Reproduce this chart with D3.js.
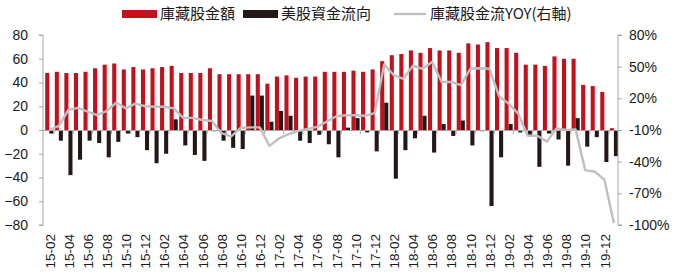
<!doctype html>
<html>
<head>
<meta charset="utf-8">
<script src="https://cdn.jsdelivr.net/npm/d3@7"></script>
<style>
  html, body { margin: 0; padding: 0; background: #fff; }
  svg { display: block; }
</style>
</head>
<body>
<div id="chart"></div>
<script>
// Monthly categories 15-02 .. 20-01
const months = [
  "15-02","15-03","15-04","15-05","15-06","15-07","15-08","15-09","15-10","15-11","15-12",
  "16-01","16-02","16-03","16-04","16-05","16-06","16-07","16-08","16-09","16-10","16-11","16-12",
  "17-01","17-02","17-03","17-04","17-05","17-06","17-07","17-08","17-09","17-10","17-11","17-12",
  "18-01","18-02","18-03","18-04","18-05","18-06","18-07","18-08","18-09","18-10","18-11","18-12",
  "19-01","19-02","19-03","19-04","19-05","19-06","19-07","19-08","19-09","19-10","19-11","19-12",
  "20-01"
];

// 庫藏股金額 (left axis)
const buybackAmount = [
  48, 49, 48, 48, 49, 52, 55, 56, 51, 53, 51,
  52, 53, 54, 48, 48, 48, 52, 47, 47, 47, 47, 47,
  39, 45, 46, 44, 45, 45, 49, 49, 49, 50, 49, 51,
  58, 63, 64, 67, 65, 69, 67, 67, 65, 73, 72, 74,
  69, 69, 65, 55, 55, 54, 62, 60, 60, 38, 37, 32,
  1.5
];

// 美股資金流向 (left axis)
const usEquityFlow = [
  -3, -9, -38, -25, -9, -11, -23, -10, -3, -6, -17,
  -28, -20, 9, -13, -21, -26, -1, -9, -15, -16, 29, 29,
  7, 16, 12, -9, -11, -4, -12, -23, 2, 10, -2, -18,
  23, -41, -17, -7, 12, -19, 5, -5, 8, -13, -1, -64,
  -23, 5, -2, -5, -31, -3, -8, -30, 10, -14, -6, -27,
  -22
];

// 庫藏股金流YOY (right axis, %)
const buybackYoY = [
  -10, -6, 9, 11, 7.5, 4, 8, 16, 10.5, 15, 12.5,
  12, 12, 10.5, 1.5, 1.5, -0.5, -1.5, -13, -16, -8, -7.5, -7.5,
  -25, -18, -14, -11, -9, -7, -2, 3, 4, 4, 3.5, 6,
  52, 42, 38.5, 51, 48, 54.5, 35.5, 35.5, 32.5, 48, 48.5, 48,
  22, 15, 5.5, -15.5, -15.5, -21, -8.5, -10, -9.5, -48, -49.5, -57,
  -98
];

const leftTicks = [80, 60, 40, 20, 0, -20, -40, -60, -80];
const rightTicks = [80, 50, 20, -10, -40, -70, -100];

const legendItems = [
  { label: "庫藏股金額", kind: "bar", color: "#C3101C" },
  { label: "美股資金流向", kind: "bar", color: "#231815" },
  { label: "庫藏股金流YOY(右軸)", kind: "line", color: "#BFBFBF" },
];

const W = 680, H = 276;
const plotLeft = 43, plotRight = 618;
const plotTop = 35, plotBottom = 225;
const axisColor = "#A6A6A6";
const textColor = "#1A1A1A";
const fontFamily = '"Liberation Sans", Arial, "Noto Sans CJK TC", sans-serif';

const data = months.map((m, i) => ({
  month: m,
  amount: buybackAmount[i],
  flow: usEquityFlow[i],
  yoy: buybackYoY[i],
}));

const svg = d3.select("#chart")
  .append("svg")
  .attr("width", W)
  .attr("height", H)
  .style("font-family", fontFamily);

const x = d3.scaleBand()
  .domain(months)
  .range([44.5, 44.5 + months.length * 9.57])
  .paddingInner(0.15)
  .paddingOuter(0.075);

const xSub = d3.scaleBand()
  .domain(["amount", "flow"])
  .range([0, x.bandwidth()])
  .padding(0);

const yL = d3.scaleLinear().domain([-80, 80]).range([plotBottom, plotTop]);
const yR = d3.scaleLinear().domain([-100, 80]).range([plotBottom, plotTop]);

const step = x.step();
const center = (m) => x(m) + x.bandwidth() / 2;

// Bars
svg.append("g")
  .selectAll("rect.amount")
  .data(data)
  .join("rect")
  .attr("class", "amount")
  .attr("x", (d) => x(d.month) + xSub("amount"))
  .attr("width", xSub.bandwidth())
  .attr("y", (d) => yL(Math.max(0, d.amount)))
  .attr("height", (d) => Math.abs(yL(d.amount) - yL(0)))
  .attr("fill", legendItems[0].color);

svg.append("g")
  .selectAll("rect.flow")
  .data(data)
  .join("rect")
  .attr("class", "flow")
  .attr("x", (d) => x(d.month) + xSub("flow"))
  .attr("width", xSub.bandwidth())
  .attr("y", (d) => yL(Math.max(0, d.flow)))
  .attr("height", (d) => Math.abs(yL(d.flow) - yL(0)))
  .attr("fill", legendItems[1].color);

// Zero line with small ticks every two categories
const zeroG = svg.append("g").attr("stroke", axisColor).attr("stroke-width", 1);
zeroG.append("line")
  .attr("x1", plotLeft).attr("x2", plotRight)
  .attr("y1", yL(0) + 0.5).attr("y2", yL(0) + 0.5);
zeroG.selectAll("line.tk")
  .data(months.filter((m, i) => i % 2 === 1))
  .join("line")
  .attr("class", "tk")
  .attr("x1", (m) => x(m) - (step - x.bandwidth()) / 2)
  .attr("x2", (m) => x(m) - (step - x.bandwidth()) / 2)
  .attr("y1", yL(0))
  .attr("y2", yL(0) + 4);

// YOY line
svg.append("path")
  .datum(data)
  .attr("fill", "none")
  .attr("stroke", legendItems[2].color)
  .attr("stroke-width", 2.4)
  .attr("stroke-linejoin", "round")
  .attr("d", d3.line().x((d) => center(d.month)).y((d) => yR(d.yoy)));

// Left axis
const leftG = svg.append("g")
  .attr("transform", `translate(${plotLeft}, 0)`)
  .call(d3.axisLeft(yL).tickValues(leftTicks).tickSize(4).tickPadding(11).tickFormat(d3.format("d")));
leftG.select(".domain").attr("stroke", axisColor).attr("d", `M-4,${plotTop}H0V${plotBottom}H-4`);
leftG.selectAll(".tick line").attr("stroke", axisColor);
leftG.selectAll(".tick text")
  .attr("fill", textColor)
  .style("font-size", "14px")
  .style("font-family", fontFamily);

// Right axis
const rightG = svg.append("g")
  .attr("transform", `translate(${plotRight}, 0)`)
  .call(d3.axisRight(yR).tickValues(rightTicks).tickSize(4).tickPadding(7).tickFormat((d) => d + "%"));
rightG.select(".domain").attr("stroke", axisColor).attr("d", `M4,${plotTop}H0V${plotBottom}H4`);
rightG.selectAll(".tick line").attr("stroke", axisColor);
rightG.selectAll(".tick text")
  .attr("fill", textColor)
  .style("font-size", "14px")
  .style("font-family", fontFamily);

// X labels (every other month, rotated)
svg.append("g")
  .selectAll("text")
  .data(months.filter((m, i) => i % 2 === 0))
  .join("text")
  .attr("transform", (m) => `translate(${center(m) + 0.5}, 234) rotate(-90)`)
  .attr("text-anchor", "end")
  .attr("dy", "0.35em")
  .attr("fill", textColor)
  .style("font-size", "13.5px")
  .text((m) => m);

// Legend
const legendPos = [
  { sx: 122, sw: 35, tx: 160 },
  { sx: 243, sw: 35, tx: 281 },
  { sx: 394, sw: 32, tx: 430 },
];
const legendY = 14;
const lg = svg.append("g");
legendItems.forEach((it, i) => {
  const p = legendPos[i];
  if (it.kind === "bar") {
    lg.append("rect")
      .attr("x", p.sx).attr("y", legendY - 4)
      .attr("width", p.sw).attr("height", 8)
      .attr("fill", it.color);
  } else {
    lg.append("line")
      .attr("x1", p.sx).attr("x2", p.sx + p.sw)
      .attr("y1", legendY).attr("y2", legendY)
      .attr("stroke", it.color).attr("stroke-width", 2.4);
  }
  lg.append("text")
    .attr("x", p.tx).attr("y", legendY)
    .attr("dy", "0.36em")
    .attr("fill", textColor)
    .style("font-size", "15px")
    .style("font-family", '"Noto Sans CJK TC", "Liberation Sans", sans-serif')
    .text(it.label);
});
</script>
</body>
</html>
